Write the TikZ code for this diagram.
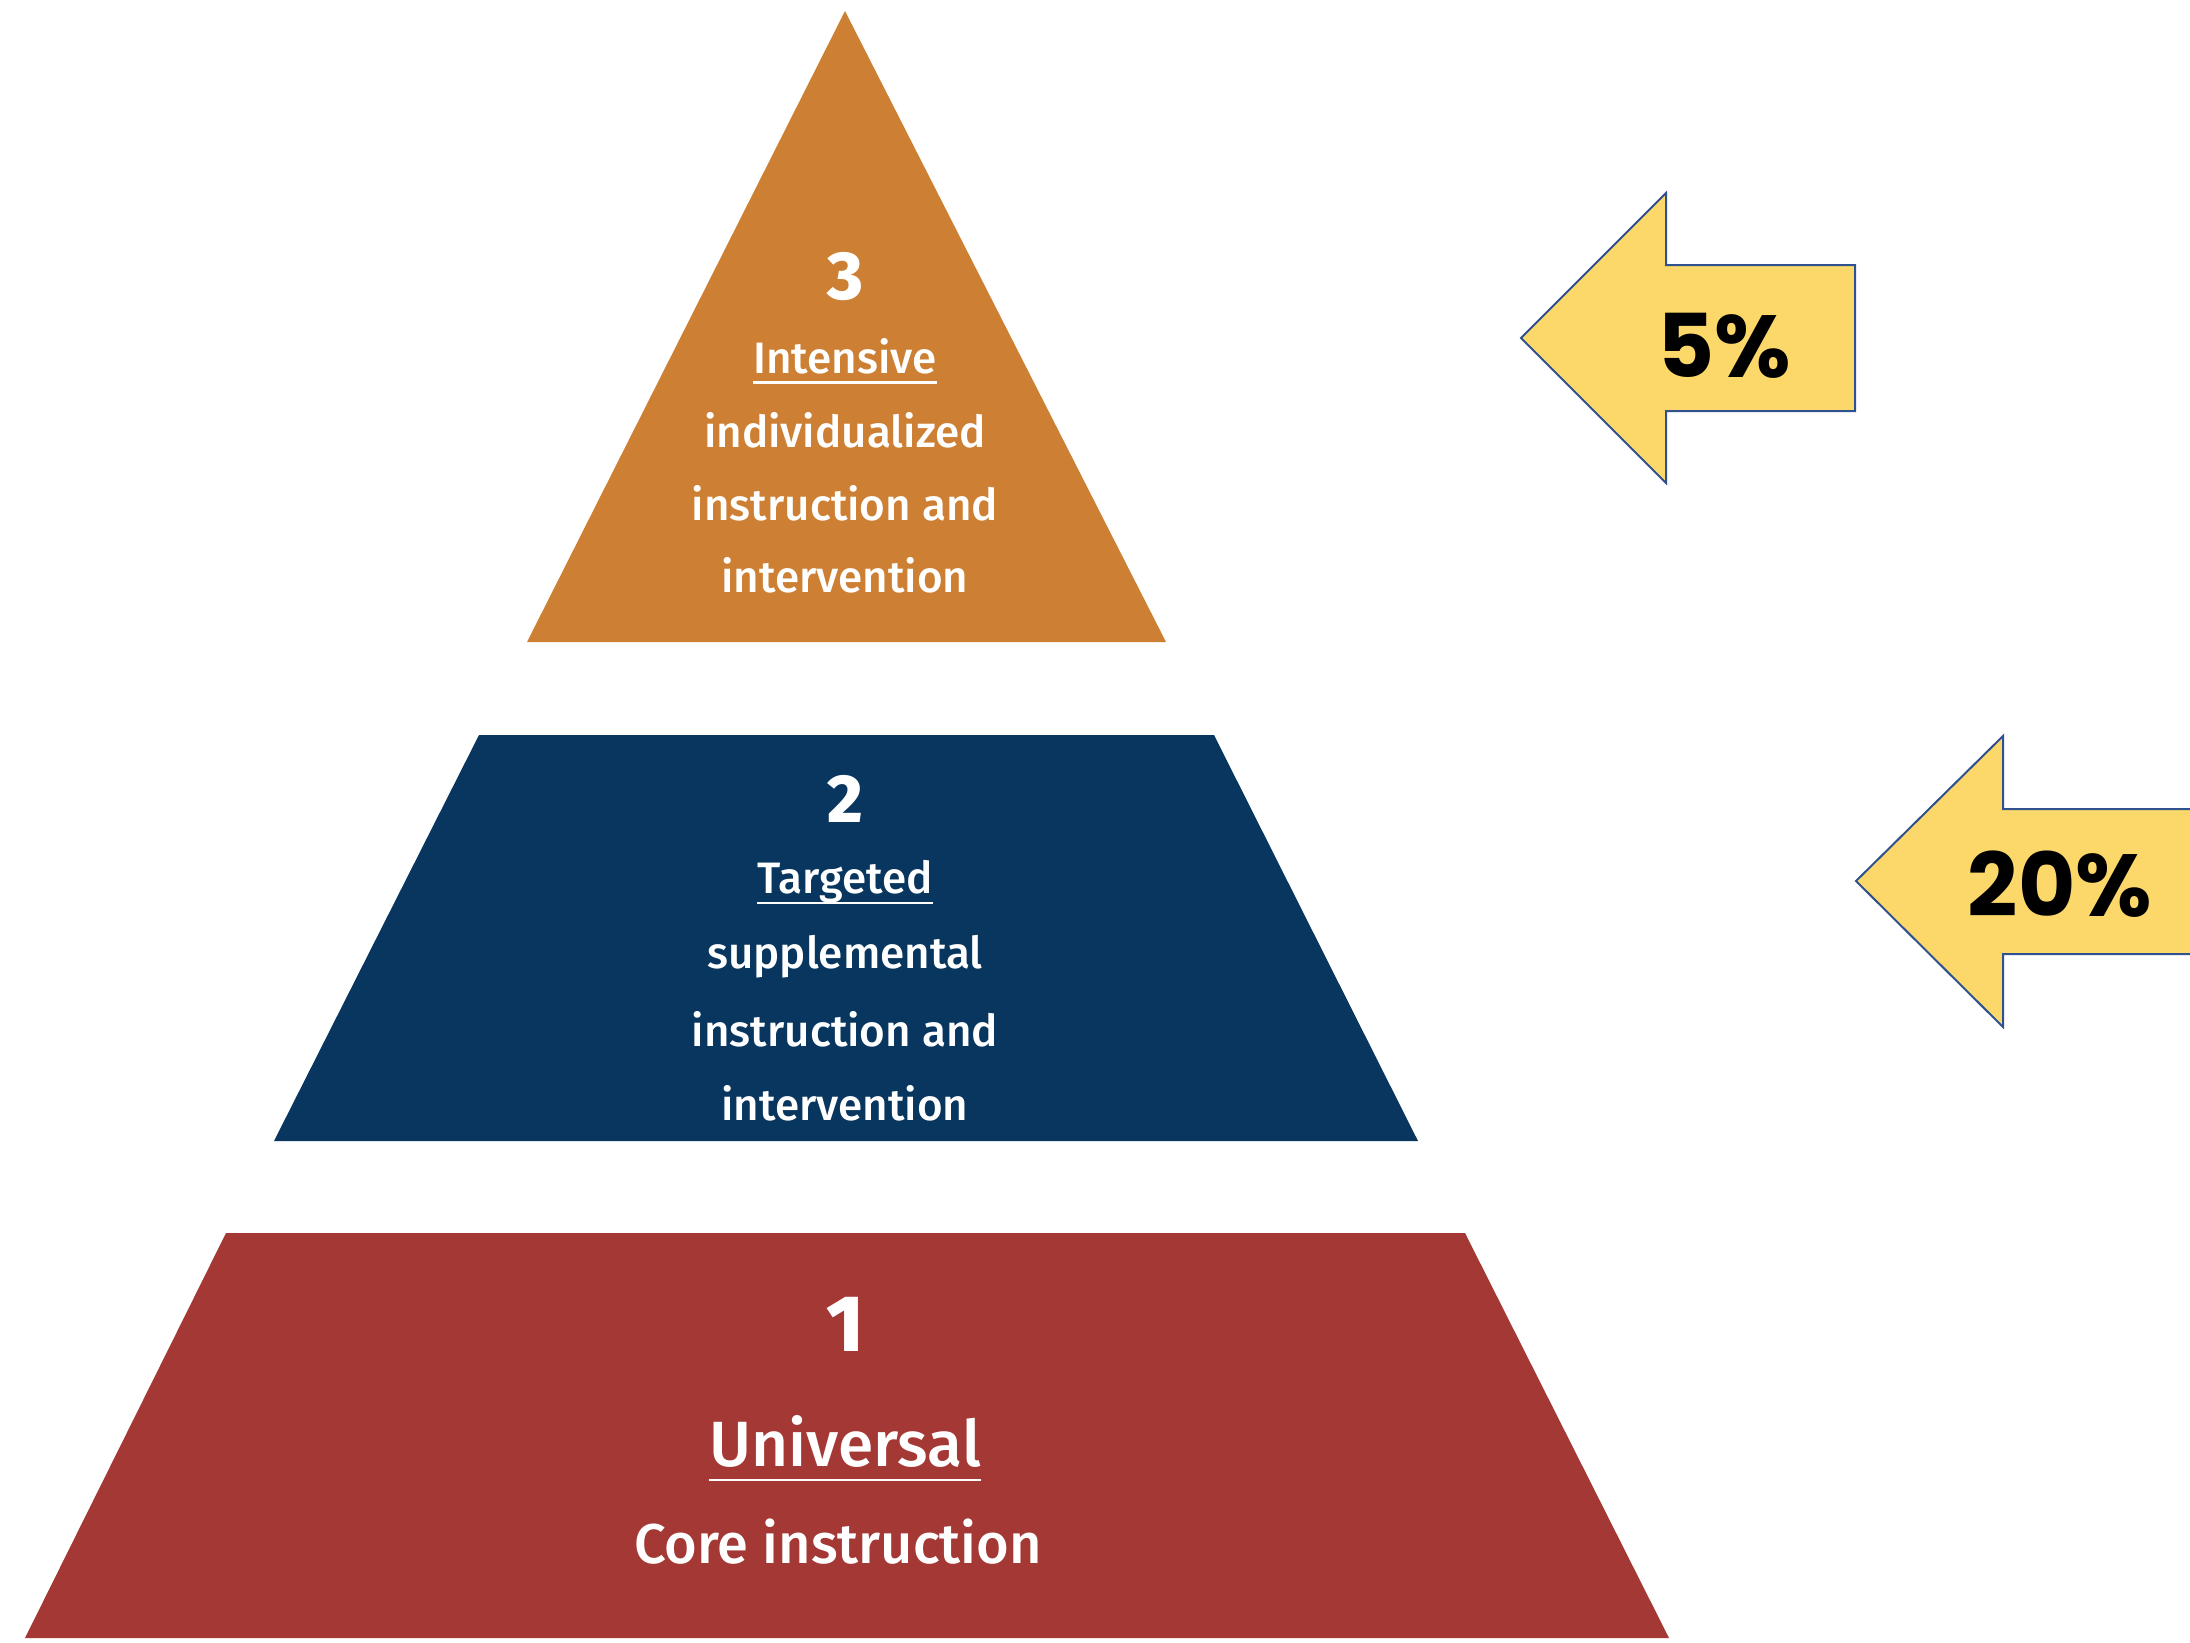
\documentclass[tikz,border=0pt]{standalone}
\usepackage{fontspec}
\newcommand\thickul[1]{\leavevmode\setbox0\hbox{#1}\rlap{\copy0}\raisebox{-0.24em}[0pt][0pt]{\rule{\wd0}{1.4pt}}}
\setmainfont{Fira Sans}
\newfontfamily\tierfont{Fira Sans Medium}
\newfontfamily\pctfont{Poppins Bold}
\definecolor{tierorange}{HTML}{CD8033}
\definecolor{tiernavy}{HTML}{08365F}
\definecolor{tierred}{HTML}{A33835}
\definecolor{arrowfill}{HTML}{FCD86A}
\definecolor{arrowline}{HTML}{2F528F}
\begin{document}
\begin{tikzpicture}[x=0.5pt,y=-0.5pt,
  tiertext/.style={text=white,font=\tierfont\fontsize{22}{36.5}\selectfont,align=center},
  bigtext/.style={text=white,font=\tierfont\fontsize{28}{36.5}\selectfont,align=center},
  numtext/.style={text=white,font=\tierfont\bfseries\fontsize{34}{36}\selectfont},
  pcttext/.style={text=black,font=\pctfont\fontsize{44}{48}\selectfont},
  pctarrow/.style={fill=arrowfill,draw=arrowline,line width=1pt,line join=miter}]
\useasboundingbox (0,0) rectangle (2190,1643);
% tiers
\fill[tierorange] (845,11) -- (1166,642) -- (527,642) -- cycle;
\fill[tiernavy] (479,735) -- (1214,735) -- (1418,1141) -- (274,1141) -- cycle;
\fill[tierred] (226,1233) -- (1465,1233) -- (1669,1638) -- (25,1638) -- cycle;
% tier 3 text
\node[numtext] (n3) at (845,277) {3};
\node[tiertext] (t3a) at (845,356) {\thickul{Intensive}};
\node[tiertext] (t3b) at (845,430) {individualized};
\node[tiertext] (t3c) at (845,503) {instruction and};
\node[tiertext] (t3d) at (845,575) {intervention};
% tier 2 text
\node[numtext] (n2) at (845,799) {2};
\node[tiertext] (t2a) at (845,882) {\thickul{Targeted}};
\node[tiertext] (t2b) at (845,957) {supplemental};
\node[tiertext] (t2c) at (845,1029) {instruction and};
\node[tiertext] (t2d) at (845,1103) {intervention};
% tier 1 text
\node[numtext,font=\tierfont\bfseries\fontsize{40}{44}\selectfont] (n1) at (845,1324) {1};
\node[bigtext,font=\tierfont\fontsize{32}{36}\selectfont] (t1a) at (845,1441) {\thickul{Universal}};
\node[bigtext] (t1b) at (838,1542) {Core instruction};
% arrows
\draw[pctarrow] (1521,338) -- (1666,193) -- (1666,265) -- (1855,265) -- (1855,411) -- (1666,411) -- (1666,483) -- cycle;
\draw[pctarrow] (1856,881) -- (2003,736) -- (2003,809) -- (2250,809) -- (2250,954) -- (2003,954) -- (2003,1027) -- cycle;
\node[pcttext] (p5) at (1724,346) {5\%};
\node[pcttext] (p20) at (2060,884) {20\%};
\end{tikzpicture}
\end{document}
